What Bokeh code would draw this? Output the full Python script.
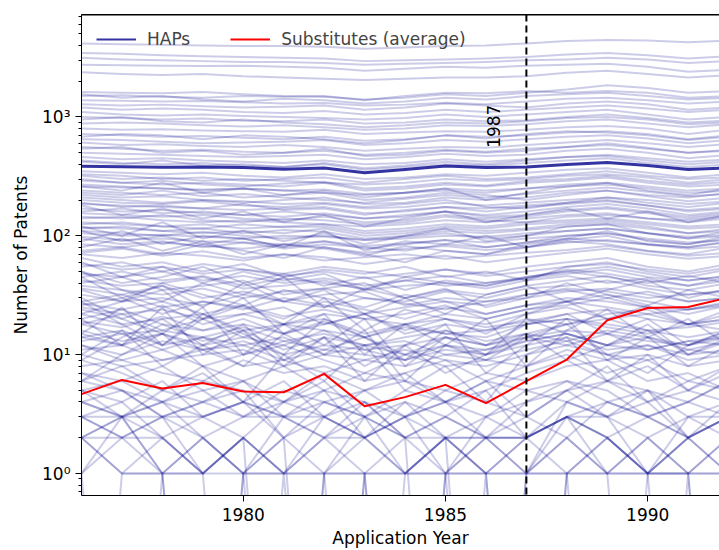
import numpy as np
from bokeh.plotting import figure
from bokeh.models import (Range1d, LogTicker, FixedTicker, CustomJSTickFormatter,
                          Span, Legend, LegendItem, Label, LinearAxis)
from bokeh.embed import file_html
from bokeh.resources import INLINE

# ---------------- data ----------------
years = list(range(1976, 1993))
event_year = 1987
event_label = "1987"

# Substitutes (average)
substitutes_avg = [4.65, 6.13, 5.19, 5.78, 4.9, 4.83, 6.89, 3.68, 4.39, 5.57, 3.91, 5.98, 9.1, 19.5, 24.7, 25.2, 30.3]

# highlighted HAP series (thick line)
hap_main = [385, 382, 378, 380, 375, 363, 372, 340, 362, 387, 375, 380, 398, 414, 390, 361, 372]

# individual HAP series
hap_01 = [4150, 4100, 4050, 4000, 3950, 3950, 3900, 3750, 3850, 3950, 4000, 4150, 4350, 4450, 4400, 4250, 4400]
hap_02 = [3450, 3400, 3300, 3250, 3200, 3150, 3100, 2950, 3000, 3050, 3100, 3200, 3350, 3450, 3300, 3100, 3250]
hap_03 = [3150, 3050, 3000, 2950, 2900, 2900, 2850, 2750, 2800, 2850, 2900, 3000, 3050, 3150, 3050, 2850, 2950]
hap_04 = [2750, 2720, 2700, 2680, 2700, 2650, 2600, 2450, 2550, 2650, 2600, 2700, 2750, 2800, 2650, 2400, 2500]
hap_05 = [2380, 2300, 2250, 2300, 2200, 2150, 2100, 2050, 2100, 2150, 2150, 2200, 2350, 2450, 2300, 2150, 2250]
hap_06 = [1620, 1600, 1580, 1620, 1550, 1500, 1480, 1400, 1450, 1550, 1500, 1600, 1700, 1850, 1750, 1600, 1650]
hap_07 = [1500, 1520, 1480, 1450, 1500, 1480, 1500, 1380, 1500, 1600, 1580, 1650, 1600, 1650, 1600, 1450, 1500]
hap_08 = [1380, 1370, 1350, 1360, 1330, 1300, 1310, 1250, 1270, 1320, 1280, 1350, 1420, 1450, 1380, 1300, 1350]
hap_09 = [1280, 1250, 1270, 1230, 1200, 1220, 1250, 1150, 1200, 1300, 1250, 1200, 1300, 1350, 1280, 1150, 1200]
hap_10 = [1200, 1150, 1180, 1150, 1100, 1080, 1120, 1050, 1080, 1150, 1100, 1150, 1200, 1250, 1180, 1100, 1150]
hap_11 = [1100, 1050, 1030, 1050, 1020, 1000, 980, 950, 980, 1050, 1000, 1050, 1100, 1150, 1050, 950, 1000]
hap_12 = [1000, 980, 950, 970, 930, 920, 950, 880, 900, 950, 920, 940, 1000, 1050, 980, 900, 930]
hap_13 = [880, 900, 880, 850, 830, 850, 820, 780, 800, 850, 840, 870, 920, 950, 880, 820, 870]
hap_14 = [800, 780, 790, 770, 760, 750, 780, 720, 740, 760, 750, 780, 820, 840, 800, 720, 780]
hap_15 = [720, 700, 680, 690, 670, 650, 680, 630, 650, 700, 680, 700, 740, 760, 720, 650, 700]
hap_16 = [650, 640, 620, 600, 610, 620, 640, 580, 600, 640, 620, 650, 680, 700, 660, 600, 640]
hap_17 = [610, 580, 590, 570, 560, 580, 560, 520, 540, 560, 550, 580, 610, 640, 600, 560, 590]
hap_18 = [560, 540, 520, 530, 510, 500, 520, 480, 500, 530, 510, 540, 560, 580, 540, 500, 530]
hap_19 = [500, 490, 480, 470, 460, 470, 480, 440, 460, 490, 470, 480, 520, 540, 500, 450, 480]
hap_20 = [460, 440, 450, 430, 420, 410, 430, 400, 410, 440, 420, 440, 460, 480, 450, 420, 440]
hap_21 = [430, 410, 400, 410, 390, 380, 400, 360, 380, 400, 390, 410, 430, 450, 410, 380, 400]
hap_22 = [350, 340, 330, 340, 320, 310, 330, 300, 310, 330, 320, 340, 360, 370, 340, 310, 330]
hap_23 = [320, 300, 310, 290, 300, 290, 280, 270, 280, 300, 290, 300, 320, 330, 310, 280, 300]
hap_24 = [290, 280, 270, 280, 270, 260, 280, 240, 250, 270, 260, 280, 290, 310, 280, 260, 270]
hap_25 = [260, 255, 250, 245, 250, 240, 245, 225, 230, 250, 240, 250, 270, 280, 260, 240, 250]
hap_26 = [240, 230, 220, 230, 210, 220, 230, 200, 210, 230, 220, 200, 220, 240, 220, 210, 230]
hap_27 = [220, 210, 215, 200, 190, 200, 210, 185, 190, 210, 200, 210, 230, 240, 215, 195, 210]
hap_28 = [200, 190, 185, 195, 180, 175, 185, 170, 175, 190, 180, 190, 200, 210, 190, 175, 190]
hap_29 = [185, 180, 175, 170, 165, 170, 175, 155, 160, 175, 170, 180, 190, 200, 180, 165, 175]
hap_30 = [170, 160, 165, 155, 150, 160, 150, 140, 145, 160, 150, 160, 175, 185, 170, 150, 160]
hap_31 = [155, 150, 145, 150, 140, 135, 145, 130, 135, 150, 140, 145, 160, 170, 155, 140, 150]
hap_32 = [140, 145, 135, 130, 135, 130, 125, 120, 125, 135, 130, 140, 150, 155, 140, 130, 140]
hap_33 = [130, 125, 120, 125, 115, 120, 125, 110, 115, 125, 120, 130, 135, 140, 130, 120, 125]
hap_34 = [118, 115, 110, 105, 110, 105, 115, 100, 105, 115, 110, 115, 125, 130, 120, 105, 115]
hap_35 = [105, 100, 102, 98, 95, 100, 98, 92, 95, 100, 98, 105, 110, 115, 105, 95, 100]
hap_36 = [98, 92, 95, 90, 88, 85, 90, 82, 86, 92, 88, 95, 100, 105, 95, 88, 92]
hap_37 = [180, 150, 170, 140, 160, 130, 150, 120, 140, 160, 130, 150, 170, 140, 160, 130, 150]
hap_38 = [90, 110, 85, 100, 95, 80, 110, 75, 90, 85, 100, 80, 95, 110, 90, 85, 100]
hap_39 = [75, 80, 70, 85, 75, 65, 80, 70, 60, 75, 70, 80, 90, 85, 75, 70, 80]
hap_40 = [70, 65, 72, 68, 62, 70, 66, 58, 64, 68, 60, 66, 72, 78, 70, 64, 68]
hap_41 = [55, 60, 50, 58, 52, 48, 55, 50, 45, 52, 48, 55, 60, 65, 55, 50, 58]
hap_42 = [48, 45, 50, 42, 46, 40, 44, 38, 42, 46, 40, 45, 50, 55, 48, 42, 46]
hap_43 = [42, 38, 40, 45, 36, 38, 42, 35, 38, 40, 36, 42, 46, 40, 44, 38, 42]
hap_44 = [38, 35, 32, 36, 30, 34, 36, 30, 28, 34, 30, 36, 38, 42, 36, 32, 35]
hap_45 = [32, 28, 30, 26, 32, 28, 25, 30, 27, 24, 28, 30, 34, 36, 32, 28, 30]
hap_46 = [28, 32, 25, 28, 24, 30, 26, 22, 25, 28, 22, 26, 30, 28, 25, 24, 28]
hap_47 = [25, 22, 24, 20, 22, 18, 22, 20, 18, 22, 20, 24, 26, 30, 25, 22, 26]
hap_48 = [22, 18, 20, 22, 16, 18, 20, 15, 18, 20, 17, 19, 22, 24, 20, 18, 22]
hap_49 = [20, 24, 18, 16, 20, 15, 18, 22, 15, 18, 16, 20, 18, 22, 24, 18, 20]
hap_50 = [18, 15, 16, 14, 17, 13, 15, 12, 14, 16, 13, 15, 18, 20, 16, 14, 16]
hap_51 = [16, 13, 15, 12, 14, 12, 16, 11, 12, 14, 12, 14, 16, 15, 13, 12, 14]
hap_52 = [14, 16, 12, 14, 10, 13, 11, 14, 10, 12, 11, 13, 15, 12, 14, 11, 13]
hap_53 = [12, 10, 13, 11, 12, 9, 11, 10, 9, 11, 10, 12, 14, 11, 12, 10, 11]
hap_54 = [11, 12, 9, 10, 11, 8, 10, 9, 11, 9, 8, 10, 12, 10, 9, 11, 10]
hap_55 = [10, 8, 9, 11, 8, 9, 7, 9, 8, 10, 9, 8, 11, 9, 10, 8, 9]
hap_56 = [8, 9, 7, 6, 9, 7, 8, 6, 7, 9, 6, 8, 10, 7, 9, 6, 8]
hap_57 = [7, 6, 8, 5, 6, 8, 5, 7, 6, 5, 7, 6, 8, 9, 6, 7, 5]
hap_58 = [6, 5, 4, 6, 5, 4, 6, 3, 5, 4, 6, 5, 4, 6, 5, 4, 6]
hap_59 = [5, 3, 5, 4, 3, 5, 4, 5, 3, 4, 3, 5, 6, 4, 5, 3, 4]
hap_60 = [4, 5, 3, 4, 5, 2, 4, 3, 4, 2, 3, 4, 5, 3, 4, 2, 3]
hap_61 = [3, 4, 2, 3, 2, 4, 3, 2, 3, 4, 2, 3, 2, 4, 3, 2, 3]
hap_62 = [2, 3, 4, 2, 1, 3, 2, 4, 2, 1, 3, 2, 3, 2, 1, 3, 2]
hap_63 = [3, 3, 3, 3, 4, 3, 3, 2, 3, 2, 2, 2, 3, 3, 2, 3, 3]
hap_64 = [1, 2, 3, 1, 2, 1, 3, 2, 1, 2, 1, 2, 3, 1, 2, 1, 2]
hap_65 = [2, 3, 1, 2, 1, 2, 1, 3, 1, 2, 0, 1, 3, 2, 1, 2, 3]
hap_66 = [1, 0, 1, 1, 0, 1, 0, 1, 0, 1, 1, 0, 1, 1, 0, 1, 0]
hap_67 = [0, 1, 1, 1, 1, 1, 1, 1, 1, 1, 1, 1, 1, 1, 1, 1, 1]
hap_68 = [1, 3, 1, 0, 1, 2, 0, 1, 2, 0, 1, 0, 1, 2, 1, 0, 1]
hap_69 = [4, 3, 2, 1, 2, 0, 1, 2, 3, 1, 2, 1, 4, 3, 1, 2, 1]
hap_70 = [3, 2, 1, 2, 1, 0, 1, 1, 0, 1, 2, 1, 2, 1, 1, 1, 0]
hap_71 = [30, 20, 15, 25, 10, 18, 12, 20, 8, 14, 10, 20, 15, 12, 18, 10, 14]
hap_72 = [20, 12, 25, 10, 16, 8, 14, 6, 12, 18, 7, 12, 20, 9, 14, 8, 12]
hap_73 = [9, 14, 20, 12, 8, 15, 10, 16, 6, 12, 9, 14, 18, 10, 7, 12, 16]
hap_74 = [45, 30, 38, 25, 40, 28, 35, 22, 30, 36, 25, 30, 40, 32, 26, 35, 30]
hap_75 = [15, 25, 12, 20, 30, 15, 22, 10, 18, 12, 20, 8, 16, 24, 14, 20, 12]
hap_76 = [6, 10, 15, 8, 4, 10, 6, 12, 5, 8, 4, 10, 14, 6, 10, 5, 8]
hap_77 = [60, 45, 55, 40, 50, 42, 48, 35, 45, 40, 38, 44, 52, 48, 42, 38, 45]
hap_78 = [120, 100, 130, 95, 110, 90, 105, 85, 100, 115, 90, 100, 120, 125, 105, 95, 110]
hap_79 = [260, 240, 280, 230, 250, 220, 240, 210, 230, 250, 200, 230, 260, 280, 240, 220, 250]
hap_80 = [80, 95, 75, 90, 70, 85, 78, 68, 82, 75, 70, 85, 92, 100, 85, 80, 90]
hap_81 = [1550, 1450, 1500, 1400, 1350, 1420, 1380, 1300, 1350, 1450, 1400, 1500, 1550, 1600, 1500, 1400, 1450]
hap_82 = [950, 1000, 920, 900, 950, 900, 870, 820, 850, 900, 880, 920, 980, 1000, 950, 870, 900]
hap_83 = [680, 720, 700, 650, 700, 680, 650, 600, 640, 700, 660, 720, 760, 740, 700, 640, 680]
hap_84 = [540, 560, 500, 520, 480, 500, 540, 470, 480, 520, 500, 520, 560, 600, 550, 500, 520]
hap_85 = [420, 400, 430, 390, 400, 380, 410, 370, 390, 420, 400, 430, 460, 470, 430, 400, 420]
hap_86 = [330, 320, 300, 310, 290, 300, 310, 280, 300, 320, 300, 310, 330, 350, 320, 300, 310]
hap_87 = [270, 260, 250, 240, 250, 240, 230, 220, 230, 240, 230, 250, 260, 270, 250, 230, 240]
hap_88 = [210, 200, 190, 200, 195, 185, 190, 175, 185, 200, 175, 170, 190, 210, 200, 185, 195]
hap_89 = [160, 170, 155, 160, 150, 145, 155, 140, 150, 160, 145, 150, 165, 175, 160, 145, 155]
hap_90 = [125, 130, 120, 115, 125, 118, 120, 105, 110, 120, 115, 125, 130, 135, 125, 115, 120]
hap_91 = [110, 105, 100, 108, 100, 95, 100, 92, 98, 105, 95, 100, 110, 115, 105, 98, 102]
hap_92 = [85, 80, 88, 82, 78, 84, 80, 72, 78, 82, 76, 80, 88, 92, 84, 78, 82]
hap_93 = [65, 55, 60, 50, 58, 45, 52, 48, 55, 45, 50, 42, 55, 60, 50, 45, 52]
hap_94 = [50, 40, 45, 55, 40, 48, 38, 45, 35, 42, 38, 45, 50, 45, 40, 46, 40]
hap_95 = [40, 45, 35, 38, 42, 32, 36, 40, 30, 35, 32, 38, 42, 46, 38, 35, 40]
hap_96 = [35, 28, 40, 32, 26, 35, 30, 25, 32, 28, 26, 32, 35, 30, 34, 28, 30]
hap_97 = [26, 30, 22, 28, 25, 20, 28, 24, 20, 25, 22, 26, 28, 32, 28, 24, 26]
hap_98 = [24, 20, 26, 18, 22, 25, 18, 22, 16, 20, 18, 22, 25, 20, 22, 18, 20]
hap_99 = [18, 22, 16, 20, 14, 18, 16, 14, 18, 15, 14, 18, 20, 17, 15, 18, 16]
hap_100 = [15, 12, 18, 13, 16, 11, 14, 12, 10, 14, 12, 15, 13, 16, 14, 12, 15]
hap_101 = [13, 15, 11, 14, 12, 14, 10, 12, 13, 10, 11, 14, 12, 15, 11, 13, 12]
hap_102 = [12, 9, 11, 8, 10, 12, 9, 7, 10, 8, 9, 11, 13, 10, 12, 9, 10]
hap_103 = [28, 18, 12, 22, 15, 10, 20, 14, 9, 16, 12, 18, 22, 15, 20, 12, 16]
hap_104 = [10, 16, 8, 12, 18, 9, 14, 8, 12, 7, 10, 15, 9, 12, 16, 10, 13]
hap_105 = [50, 35, 28, 40, 32, 45, 25, 36, 30, 22, 32, 38, 28, 35, 42, 30, 36]
hap_106 = [22, 28, 35, 20, 26, 18, 30, 16, 24, 20, 15, 22, 28, 20, 26, 18, 24]
hap_107 = [9, 7, 5, 8, 6, 4, 7, 5, 6, 4, 5, 7, 9, 6, 8, 5, 7]
hap_108 = [5, 6, 4, 5, 3, 4, 5, 4, 3, 5, 4, 3, 5, 6, 4, 5, 4]
hap_109 = [4, 3, 4, 3, 4, 3, 4, 3, 2, 3, 2, 2, 3, 4, 3, 4, 3]
hap_110 = [2, 2, 3, 2, 3, 3, 2, 3, 2, 2, 2, 2, 3, 2, 3, 2, 3]
hap_111 = [3, 2, 2, 1, 2, 1, 2, 1, 1, 2, 1, 1, 2, 1, 2, 1, 2]
hap_112 = [2, 1, 2, 1, 2, 1, 2, 2, 1, 2, 1, 2, 1, 2, 1, 2, 1]
hap_113 = [2, 1, 1, 0, 1, 1, 1, 0, 1, 1, 0, 1, 1, 0, 1, 1, 1]
hap_114 = [5, 4, 6, 3, 4, 2, 3, 4, 2, 3, 5, 2, 4, 3, 5, 2, 4]
hap_115 = [6, 8, 5, 7, 4, 6, 3, 5, 7, 4, 6, 3, 5, 8, 4, 6, 5]
hap_116 = [7, 5, 3, 4, 6, 3, 5, 2, 4, 3, 2, 4, 6, 5, 3, 4, 6]
hap_117 = [300, 280, 290, 270, 260, 275, 285, 250, 260, 280, 265, 290, 300, 320, 290, 270, 285]
hap_118 = [230, 220, 240, 215, 225, 210, 200, 190, 205, 220, 210, 225, 240, 255, 235, 215, 225]
hap_119 = [190, 175, 180, 170, 185, 165, 170, 150, 165, 175, 160, 175, 185, 195, 180, 160, 170]
hap_120 = [145, 140, 150, 135, 130, 140, 135, 125, 130, 145, 135, 130, 145, 150, 140, 135, 145]
hap_121 = [115, 120, 110, 115, 105, 112, 108, 95, 100, 110, 105, 112, 120, 125, 115, 105, 110]
hap_122 = [95, 85, 90, 80, 88, 78, 85, 80, 75, 85, 80, 88, 95, 90, 85, 80, 88]
hap_123 = [72, 78, 68, 74, 65, 70, 62, 66, 70, 64, 68, 72, 76, 82, 74, 68, 72]
hap_124 = [58, 52, 55, 48, 52, 46, 50, 44, 48, 52, 46, 50, 55, 58, 52, 48, 54]
hap_125 = [45, 50, 42, 46, 38, 44, 40, 36, 42, 38, 40, 44, 48, 52, 45, 42, 46]
hap_126 = [36, 32, 38, 30, 34, 28, 32, 34, 26, 30, 28, 32, 36, 34, 30, 32, 34]
hap_127 = [27, 24, 28, 22, 26, 21, 24, 20, 22, 26, 20, 24, 28, 25, 22, 24, 27]
hap_128 = [19, 17, 21, 16, 18, 15, 19, 14, 17, 15, 16, 18, 20, 18, 16, 17, 19]
hap_129 = [14, 12, 15, 11, 13, 10, 12, 11, 9, 12, 10, 13, 15, 12, 11, 13, 14]
hap_130 = [110, 90, 100, 85, 95, 80, 90, 78, 85, 92, 80, 88, 100, 105, 92, 85, 95]

hap_series = [hap_01, hap_02, hap_03, hap_04, hap_05, hap_06, hap_07, hap_08, hap_09, hap_10,
              hap_11, hap_12, hap_13, hap_14, hap_15, hap_16, hap_17, hap_18, hap_19, hap_20,
              hap_21, hap_22, hap_23, hap_24, hap_25, hap_26, hap_27, hap_28, hap_29, hap_30,
              hap_31, hap_32, hap_33, hap_34, hap_35, hap_36, hap_37, hap_38, hap_39, hap_40,
              hap_41, hap_42, hap_43, hap_44, hap_45, hap_46, hap_47, hap_48, hap_49, hap_50,
              hap_51, hap_52, hap_53, hap_54, hap_55, hap_56, hap_57, hap_58, hap_59, hap_60,
              hap_61, hap_62, hap_63, hap_64, hap_65, hap_66, hap_67, hap_68, hap_69, hap_70,
              hap_71, hap_72, hap_73, hap_74, hap_75, hap_76, hap_77, hap_78, hap_79, hap_80,
              hap_81, hap_82, hap_83, hap_84, hap_85, hap_86, hap_87, hap_88, hap_89, hap_90,
              hap_91, hap_92, hap_93, hap_94, hap_95, hap_96, hap_97, hap_98, hap_99, hap_100,
              hap_101, hap_102, hap_103, hap_104, hap_105, hap_106, hap_107, hap_108, hap_109,
              hap_110, hap_111, hap_112, hap_113, hap_114, hap_115, hap_116, hap_117, hap_118,
              hap_119, hap_120, hap_121, hap_122, hap_123, hap_124, hap_125, hap_126, hap_127,
              hap_128, hap_129, hap_130]

# ---------------- figure ----------------
FONT = "DejaVu Sans"
HAP_COLOR = "#00008B"
y_lo, y_hi = 0.653, 7280

p = figure(width=719, height=550, y_axis_type="log",
           x_range=Range1d(1976, 1991.775), y_range=Range1d(y_lo, y_hi),
           output_backend="svg", toolbar_location=None,
           min_border_left=81, min_border_right=0, min_border_top=14, min_border_bottom=55)
p.outline_line_color = None
p.xgrid.grid_line_color = None
p.ygrid.grid_line_color = None
p.background_fill_color = "white"
p.border_fill_color = "white"

def clip_nonpos(vals):
    # log scale: non-positive counts are clipped far below the axis (as matplotlib does)
    return [v if v > 0 else 1e-4 for v in vals]

xs = [years for _ in hap_series]
ys = [clip_nonpos(s) for s in hap_series]
p.multi_line(xs, ys, line_color=HAP_COLOR, line_alpha=0.2, line_width=2, line_join="round")

p.line(years, hap_main, line_color=HAP_COLOR, line_alpha=0.8, line_width=3, line_join="round")

# vertical event line
p.add_layout(Span(location=event_year, dimension="height", line_color="black",
                  line_width=2, line_dash="7 4"))
# top spine
p.add_layout(Span(location=y_hi, dimension="width", line_color="black", line_width=2,
                  level="overlay"))

p.add_layout(Label(x=event_year, y=836, text=event_label, angle=np.pi / 2,
                   x_offset=-33, text_align="center", text_baseline="middle",
                   text_font=FONT, text_font_size="17px", text_color="black"))

r_sub = p.line(years, substitutes_avg, line_color="red", line_width=2, line_join="round")

# legend proxy for the HAP lines (no visible data)
r_hap_leg = p.line([years[0]], [float("nan")], line_color=HAP_COLOR, line_alpha=0.8, line_width=2)
legend = Legend(items=[LegendItem(label="HAPs", renderers=[r_hap_leg]),
                       LegendItem(label="Substitutes (average)", renderers=[r_sub])],
                location="top_left", orientation="horizontal",
                border_line_color=None, background_fill_alpha=0,
                label_text_font=FONT, label_text_font_size="17px",
                glyph_width=40, label_standoff=11, spacing=40,
                margin=15, padding=15)
p.add_layout(legend)

# axes
bottom_axis = p.below[0]
left_axis = p.left[0]
bottom_axis.ticker = FixedTicker(ticks=[1980, 1985, 1990])
bottom_axis.minor_tick_line_color = None
left_axis.ticker = LogTicker(num_minor_ticks=10)
left_axis.formatter = CustomJSTickFormatter(code="""
const sup = {"-":"\u207b","0":"\u2070","1":"\u00b9","2":"\u00b2","3":"\u00b3","4":"\u2074",
             "5":"\u2075","6":"\u2076","7":"\u2077","8":"\u2078","9":"\u2079"};
const e = Math.round(Math.log10(tick));
return "10" + String(e).split("").map(c => sup[c]).join("");
""")
for ax in (bottom_axis, left_axis):
    ax.axis_line_color = "black"
    ax.axis_line_width = 1
    ax.major_tick_line_color = "black"
    ax.major_tick_out = 6
    ax.major_tick_in = 0
    ax.minor_tick_out = 3
    ax.minor_tick_in = 0
    ax.major_label_text_font = FONT
    ax.major_label_text_font_size = "17px"
    ax.major_label_text_color = "black"
    ax.axis_label_text_font = FONT
    ax.axis_label_text_font_size = "17px"
    ax.axis_label_text_font_style = "normal"
    ax.axis_label_text_color = "black"
bottom_axis.major_label_standoff = 6
bottom_axis.axis_label = "Application Year"
bottom_axis.axis_label_standoff = 4
left_axis.major_label_standoff = 5
left_axis.axis_label = "Number of Patents"
left_axis.axis_label_standoff = 8

# top spine: an axis with no ticks and no labels
top_axis = LinearAxis(ticker=FixedTicker(ticks=[]), axis_line_color="black", axis_line_width=1,
                      major_tick_out=0, major_tick_in=0, minor_tick_out=0, minor_tick_in=0,
                      major_label_standoff=0)
p.add_layout(top_axis, "above")

open("out.html", "w").write(file_html(p, INLINE))
